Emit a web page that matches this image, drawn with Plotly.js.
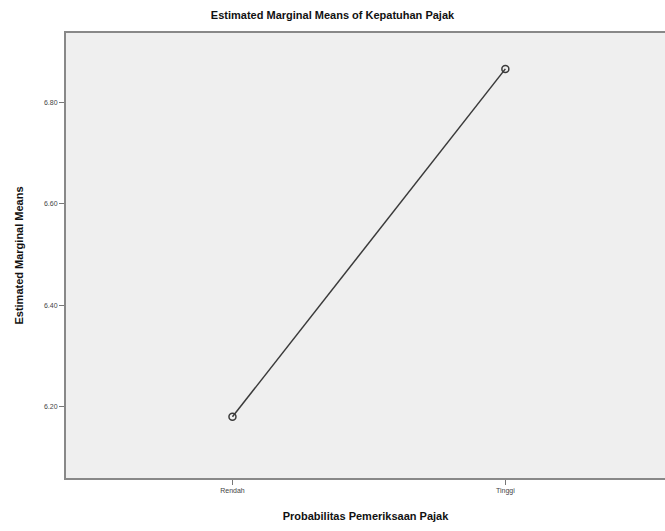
<!DOCTYPE html>
<html>
<head>
<meta charset="utf-8">
<script src="https://cdn.plot.ly/plotly-3.0.1.min.js"></script>
<style>html,body{margin:0;padding:0;background:#fff;}#chart{width:665px;height:531px;}</style>
</head>
<body>
<div id="chart"></div>
<script>
var categories = ["Rendah", "Tinggi"];
var means = [6.179, 6.867];
var yTickVals = [6.2, 6.4, 6.6, 6.8];
var yTickText = ["6.20", "6.40", "6.60", "6.80"];

var trace = {
  x: [0, 1],
  y: means,
  type: "scatter",
  mode: "lines+markers",
  line: {color: "#3a3a3a", width: 1.5},
  marker: {symbol: "circle-open", size: 7, color: "#3a3a3a", line: {width: 1.5, color: "#3a3a3a"}},
  hoverinfo: "skip"
};

var layout = {
  width: 665, height: 531,
  margin: {l: 66, r: 0, t: 33, b: 53},
  paper_bgcolor: "#ffffff",
  plot_bgcolor: "#efefef",
  showlegend: false,
  font: {family: "Liberation Sans, Arial, sans-serif", color: "#222"},
  title: {text: "Estimated Marginal Means of Kepatuhan Pajak", font: {size: 11, color: "#111", weight: "bold"}, x: 0.5, xanchor: "center", y: 0.978, yanchor: "top"},
  xaxis: {
    range: [-0.61, 1.585],
    tickvals: [0, 1], ticktext: categories,
    ticks: "outside", ticklen: 5, tickcolor: "#777", tickwidth: 1,
    tickfont: {size: 7, color: "#444444"},
    showgrid: false, zeroline: false,
    showline: true, linecolor: "#888", linewidth: 2, mirror: true,
    title: {text: "Probabilitas Pemeriksaan Pajak", font: {size: 11, color: "#111", weight: "bold"}, standoff: 18}
  },
  yaxis: {
    range: [6.058, 6.938],
    tickvals: yTickVals, ticktext: yTickText,
    ticks: "outside", ticklen: 5, tickcolor: "#777", tickwidth: 1,
    tickfont: {size: 7, color: "#444444"},
    showgrid: false, zeroline: false,
    showline: true, linecolor: "#888", linewidth: 2, mirror: true,
    title: {text: "Estimated Marginal Means", font: {size: 11, color: "#111", weight: "bold"}, standoff: 18}
  }
};

Plotly.newPlot("chart", [trace], layout, {staticPlot: true, displayModeBar: false});
</script>
</body>
</html>
